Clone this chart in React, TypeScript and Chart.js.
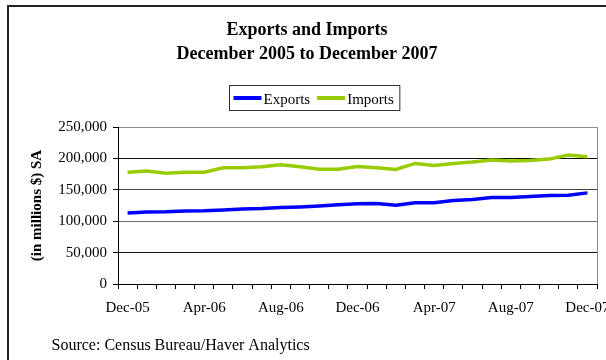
import React, { useEffect, useRef } from 'react';
import { Chart, registerables } from 'chart.js';

Chart.register(...registerables);

const categories = [
  'Dec-05', 'Jan-06', 'Feb-06', 'Mar-06', 'Apr-06', 'May-06', 'Jun-06', 'Jul-06', 'Aug-06',
  'Sep-06', 'Oct-06', 'Nov-06', 'Dec-06', 'Jan-07', 'Feb-07', 'Mar-07', 'Apr-07', 'May-07',
  'Jun-07', 'Jul-07', 'Aug-07', 'Sep-07', 'Oct-07', 'Nov-07', 'Dec-07',
];

const tickLabels = ['Dec-05', 'Apr-06', 'Aug-06', 'Dec-06', 'Apr-07', 'Aug-07', 'Dec-07'];

const exportsValues = [
  113200, 114800, 115200, 116400, 116600, 118000, 119600, 120300, 121900,
  122800, 124200, 126200, 127800, 128300, 125300, 129200, 129400, 133000,
  134600, 137800, 137900, 139400, 141000, 141500, 145100,
];

const importsValues = [
  177900, 179900, 176200, 177900, 177900, 185200, 185200, 186800, 190000,
  186600, 182900, 182900, 187200, 185000, 182500, 192000, 188800, 192000,
  194100, 197300, 195700, 196800, 198900, 205300, 202600,
];

const seriesNames = ['Exports', 'Imports'];
const titleLines = ['Exports and Imports', 'December 2005 to December 2007'];
const yAxisTitle = '(in millions $) SA';
const sourceText = 'Source: Census Bureau/Haver Analytics';

const FONT = "'Liberation Serif', 'Times New Roman', serif";

const gridColors: Record<number, string> = {
  250000: '#8a8a8a',
  200000: '#111111',
  150000: '#444444',
  100000: '#6a6a6a',
  50000: '#111111',
  0: '#000000',
};

const decorPlugin = {
  id: 'decor',
  afterDraw(chart: any) {
    const ctx: CanvasRenderingContext2D = chart.ctx;
    const { right, top, bottom } = chart.chartArea;
    ctx.save();

    // plot area right border
    ctx.strokeStyle = '#8a8a8a';
    ctx.lineWidth = 1;
    ctx.beginPath();
    const rx = Math.round(right) + 0.5;
    ctx.moveTo(rx, top);
    ctx.lineTo(rx, bottom);
    ctx.stroke();

    // outer chart border (left and top visible)
    ctx.strokeStyle = '#222222';
    ctx.lineWidth = 2;
    ctx.beginPath();
    ctx.moveTo(1, chart.height);
    ctx.lineTo(1, 1);
    ctx.lineTo(chart.width, 1);
    ctx.stroke();

    // legend
    ctx.font = `15px ${FONT}`;
    ctx.textBaseline = 'alphabetic';
    ctx.textAlign = 'left';
    const ds = chart.data.datasets;
    const lineLen = 28;
    const gap = 2;
    const itemGap = 7;
    const padL = 4;
    const padR = 6;
    const widths = ds.map((d: any) => ctx.measureText(d.label).width);
    let total = padL + padR;
    ds.forEach((_: any, i: number) => {
      total += lineLen + gap + widths[i];
      if (i < ds.length - 1) total += itemGap;
    });
    const boxH = 25;
    const cx = 307;
    const boxTop = 80.5;
    const boxLeft = Math.round(cx - total / 2) + 0.5;
    ctx.fillStyle = '#ffffff';
    ctx.fillRect(boxLeft, boxTop, total, boxH);
    ctx.strokeStyle = '#333333';
    ctx.lineWidth = 1;
    ctx.strokeRect(boxLeft, boxTop, total, boxH);
    let x = boxLeft + padL;
    const ly = boxTop + 12.5;
    ds.forEach((d: any, i: number) => {
      ctx.strokeStyle = d.borderColor;
      ctx.lineWidth = 4;
      ctx.beginPath();
      ctx.moveTo(x, ly);
      ctx.lineTo(x + lineLen, ly);
      ctx.stroke();
      x += lineLen + gap;
      ctx.fillStyle = '#000000';
      ctx.fillText(d.label, x, boxTop + 18);
      x += widths[i] + itemGap;
    });

    // source note
    ctx.font = `16px ${FONT}`;
    ctx.fillStyle = '#000000';
    ctx.fillText(sourceText, 44.5, 345);

    ctx.restore();
  },
};

export default function App() {
  const canvasRef = useRef<HTMLCanvasElement | null>(null);

  useEffect(() => {
    const canvas = canvasRef.current;
    if (!canvas) return;
    const chart = new Chart(canvas, {
      type: 'line',
      data: {
        labels: categories,
        datasets: [
          {
            label: seriesNames[0],
            data: exportsValues,
            borderColor: '#0000ff',
            backgroundColor: '#0000ff',
            borderWidth: 3.5,
            pointRadius: 0,
            tension: 0,
          },
          {
            label: seriesNames[1],
            data: importsValues,
            borderColor: '#99cc00',
            backgroundColor: '#99cc00',
            borderWidth: 3.5,
            pointRadius: 0,
            tension: 0,
          },
        ],
      },
      options: {
        animation: false,
        responsive: false,
        events: [],
        layout: { padding: 0 },
        plugins: {
          legend: { display: false },
          tooltip: { enabled: false },
          title: {
            display: true,
            text: titleLines,
            color: '#000000',
            font: { family: FONT, size: 18, weight: 'bold', lineHeight: 24 / 18 },
            padding: { top: 13, bottom: 61 },
          },
        },
        scales: {
          x: {
            type: 'category',
            offset: true,
            grid: {
              display: true,
              offset: true,
              drawOnChartArea: false,
              drawTicks: true,
              tickLength: 5,
              color: '#000000',
              tickColor: '#000000',
            },
            border: { display: true, color: '#000000', width: 1 },
            ticks: {
              autoSkip: false,
              maxRotation: 0,
              minRotation: 0,
              padding: 10,
              color: '#000000',
              font: { family: FONT, size: 15 },
              callback: (_v: any, i: number) =>
                tickLabels.includes(categories[i]) ? categories[i] : '',
            },
            afterFit: (s: any) => {
              s.height = 76;
              s.paddingLeft = 0;
              s.paddingRight = 10;
            },
          },
          y: {
            min: 0,
            max: 250000,
            grid: {
              color: (c: any) => gridColors[c.tick?.value] ?? '#000000',
              tickColor: '#000000',
              tickLength: 5,
              drawTicks: true,
            },
            border: { display: true, color: '#000000', width: 1 },
            ticks: {
              stepSize: 50000,
              padding: 6,
              color: '#000000',
              font: { family: FONT, size: 15 },
              callback: (v: any) => Number(v).toLocaleString('en-US'),
            },
            title: {
              display: true,
              text: yAxisTitle,
              color: '#000000',
              font: { family: FONT, size: 15, weight: 'bold' },
              padding: { top: 21, bottom: 0 },
            },
            afterFit: (s: any) => {
              s.width = 111;
            },
          },
        },
      },
      plugins: [decorPlugin],
    } as any);
    return () => chart.destroy();
  }, []);

  return (
    <div
      style={{
        position: 'fixed',
        left: 0,
        top: 0,
        width: 606,
        height: 360,
        overflow: 'hidden',
        background: '#ffffff',
      }}
    >
      <div style={{ position: 'absolute', left: 7, top: 5, width: 600, height: 355 }}>
        <canvas ref={canvasRef} width={600} height={355} style={{ display: 'block' }} />
      </div>
    </div>
  );
}
